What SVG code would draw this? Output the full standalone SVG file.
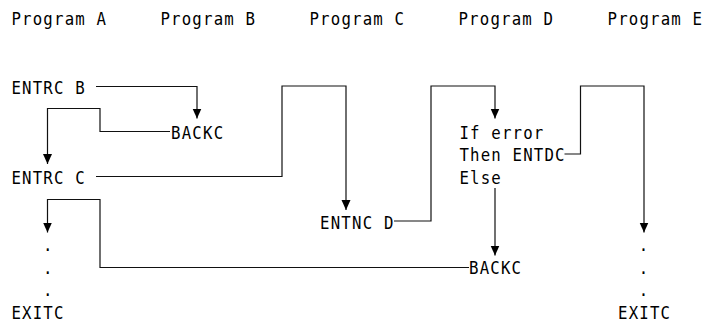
<svg xmlns="http://www.w3.org/2000/svg" width="706" height="322" viewBox="0 0 706 322">
<style>
text{font-family:"DejaVu Sans Mono","Liberation Mono",monospace;font-size:18.5px;letter-spacing:1.38px;fill:#000;}
.c{fill:none;stroke:#111;stroke-width:1.2;}
</style>
<defs>
<marker id="ah" markerUnits="userSpaceOnUse" markerWidth="10" markerHeight="10" viewBox="0 0 10 10" refX="10" refY="5" orient="auto">
<path d="M0,0.5 L10,5 L0,9.5 z" fill="#000"/>
</marker>
</defs>
<g id="headers" transform="scale(0.85 1)">
<text x="13.5" y="25">Program A</text>
<text x="188.8" y="25">Program B</text>
<text x="364.1" y="25">Program C</text>
<text x="539.4" y="25">Program D</text>
<text x="714.7" y="25">Program E</text>
</g>
<g id="progA" transform="scale(0.85 1)">
<text x="13.5" y="94">ENTRC B</text>
<text x="13.5" y="184">ENTRC C</text>
<text x="50.6" y="251.5">.</text>
<text x="50.6" y="274">.</text>
<text x="50.6" y="296.5">.</text>
<text x="13.5" y="319">EXITC</text>
</g>
<g id="progB" transform="scale(0.85 1)">
<text x="201.3" y="139">BACKC</text>
</g>
<g id="progC" transform="scale(0.85 1)">
<text x="376.6" y="229">ENTNC D</text>
</g>
<g id="progD" transform="scale(0.85 1)">
<text x="540.5" y="139">If error</text>
<text x="540.5" y="161.5">Then ENTDC</text>
<text x="540.5" y="184">Else</text>
<text x="551.8" y="274">BACKC</text>
</g>
<g id="progE" transform="scale(0.85 1)">
<text x="751.5" y="251.5">.</text>
<text x="751.5" y="274">.</text>
<text x="751.5" y="296.5">.</text>
<text x="727.1" y="319">EXITC</text>
</g>
<g id="connectors">
<path class="c" marker-end="url(#ah)" d="M96,86.5 H197 V118.5"/>
<path class="c" marker-end="url(#ah)" d="M170,131.5 H100 V108.5 H47.5 V164"/>
<path class="c" marker-end="url(#ah)" d="M96,176.5 H282 V86 H346 V210"/>
<path class="c" marker-end="url(#ah)" d="M394,221 H431 V86 H495 V118.5"/>
<path class="c" marker-end="url(#ah)" d="M564.5,154 H580.5 V86 H644 V232.5"/>
<path class="c" marker-end="url(#ah)" d="M495,188 V255.5"/>
<path class="c" marker-end="url(#ah)" d="M469,267.5 H100 V199.5 H47.5 V232.5"/>
</g>
</svg>
